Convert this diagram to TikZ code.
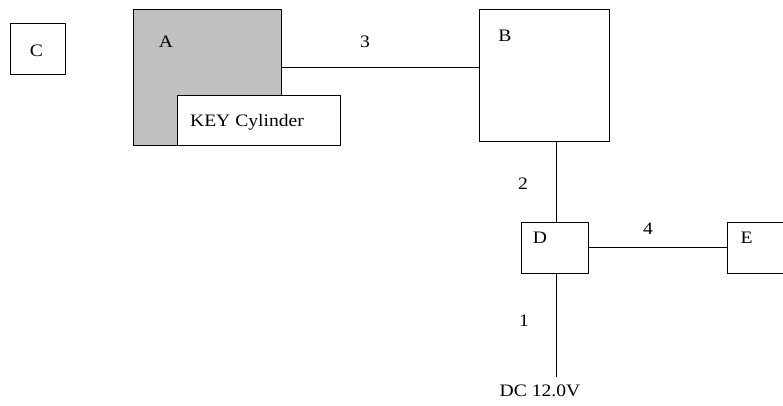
\documentclass[tikz,border=0pt]{standalone}
\usepackage{fontspec}
\setmainfont{Liberation Serif}[FakeStretch=1.12]
\begin{document}
\begin{tikzpicture}[x=1pt,y=-1pt,
  box/.style={draw=black,line width=1pt,fill=white,inner sep=0pt,minimum width=#1},
  lbl/.style={anchor=base,inner sep=0pt,font=\fontsize{17.5}{20}\selectfont},
  wire/.style={draw=black,line width=1pt}]
\useasboundingbox (0,0) rectangle (783,406);
\clip (0,0) rectangle (783,406);
\node[box=55pt,minimum height=51pt] (C) at (37.5,49.5) {};
\node[box=148pt,minimum height=136pt,fill={rgb,255:red,192;green,192;blue,192}] (A) at (207,78) {};
\node[box=163pt,minimum height=50pt] (K) at (258.5,121) {};
\node[box=130pt,minimum height=132pt] (B) at (544,76) {};
\node[box=67pt,minimum height=51pt] (D) at (554.5,247.5) {};
\node[box=80pt,minimum height=51pt] (E) at (767.5,247.5) {};
\coordinate (P) at (556,377);
\path[wire] (A.east |- 0,68) -- (B.west |- 0,68);
\path[wire] (D.north -| P) -- (B.south -| P);
\path[wire] (D.south -| P) -- (P);
\path[wire] (D.east) -- (E.west);
\node[lbl] (tC) at (36.5,57) {C};
\node[lbl] (tA) at (166,48) {A};
\node[lbl] (t3) at (365,48) {3};
\node[lbl] (tK) at (247,127) {KEY Cylinder};
\node[lbl] (tB) at (505,42) {B};
\node[lbl] (t2) at (523,189) {2};
\node[lbl] (tD) at (540,243) {D};
\node[lbl] (t4) at (648,234) {4};
\node[lbl] (tE) at (746.5,243) {E};
\node[lbl] (t1) at (524,326) {1};
\node[lbl] (tDC) at (540,396.5) {DC 12.0V};
\end{tikzpicture}
\end{document}
